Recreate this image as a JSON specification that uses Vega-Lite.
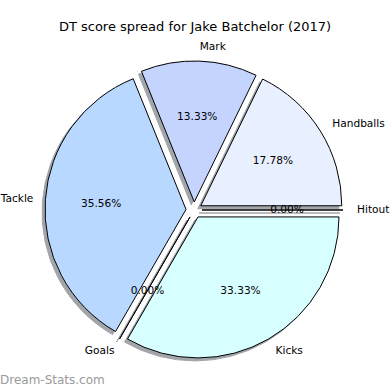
{
  "$schema": "https://vega.github.io/schema/vega-lite/v6.json",
  "autosize": "none",
  "padding": {"left": 0, "right": 0, "top": 40, "bottom": 0},
  "width": 390,
  "height": 350,
  "background": "white",
  "config": {"view": {"stroke": null}},
  "title": {"text": "DT score spread for Jake Batchelor (2017)", "font": "DejaVu Sans", "fontSize": 13, "fontWeight": "normal", "color": "#000000", "anchor": "middle", "frame": "group", "offset": -4, "baseline": "alphabetic"},
  "data": {"values": [
    {"label": "Handballs", "count": 8, "order": 1},
    {"label": "Mark", "count": 6, "order": 2},
    {"label": "Tackle", "count": 16, "order": 3},
    {"label": "Goals", "count": 0, "order": 4},
    {"label": "Kicks", "count": 15, "order": 5},
    {"label": "Hitout", "count": 0, "order": 6}
  ]},
  "transform": [
    {"joinaggregate": [{"op": "sum", "field": "count", "as": "total"}]},
    {"window": [{"op": "sum", "field": "count", "as": "cum"}], "sort": [{"field": "order"}], "frame": [null, 0]},
    {"calculate": "datum.cum - datum.count", "as": "start"},
    {"calculate": "datum.cum - datum.count / 2", "as": "mid"},
    {"calculate": "cos(2 * PI * datum.mid / datum.total)", "as": "ex"},
    {"calculate": "sin(2 * PI * datum.mid / datum.total)", "as": "ey"},
    {"calculate": "datum.count / datum.total", "as": "pct"}
  ],
  "encoding": {
    "x": {"field": "ex", "type": "quantitative", "axis": null, "scale": {"domain": [-24.25, 24.5], "nice": false, "zero": false}},
    "y": {"field": "ey", "type": "quantitative", "axis": null, "scale": {"domain": [-22.5, 21.25], "nice": false, "zero": false}}
  },
  "layer": [
    {
      "mark": {"type": "arc", "outerRadius": 141, "fill": "#a2a6aa", "stroke": "#a2a6aa", "strokeWidth": 1, "xOffset": -3, "yOffset": 3},
      "encoding": {
        "theta": {"field": "start", "type": "quantitative", "scale": {"domain": [0, 45], "range": [1.5707963, -4.712389]}},
        "theta2": {"field": "cum"}
      }
    },
    {
      "mark": {"type": "arc", "outerRadius": 141, "stroke": "#000000", "strokeWidth": 1},
      "encoding": {
        "theta": {"field": "start", "type": "quantitative"},
        "theta2": {"field": "cum"},
        "color": {"field": "label", "type": "nominal", "legend": null, "scale": {"domain": ["Handballs", "Mark", "Tackle", "Goals", "Kicks", "Hitout"], "range": ["#e8f0ff", "#c4d4ff", "#b8d8ff", "#c8e8ff", "#d8ffff", "#f0f0ff"]}}
      }
    },
    {
      "mark": {"type": "text", "radius": 85, "font": "DejaVu Sans", "fontSize": 10.6, "color": "#000000", "align": "center", "baseline": "middle"},
      "encoding": {
        "theta": {"field": "mid", "type": "quantitative"},
        "text": {"field": "pct", "type": "quantitative", "format": ".2%"}
      }
    },
    {
      "transform": [{"filter": "datum.ex > 0"}],
      "mark": {"type": "text", "radius": 155, "font": "DejaVu Sans", "fontSize": 10.6, "color": "#000000", "align": "left", "baseline": "middle"},
      "encoding": {
        "theta": {"field": "mid", "type": "quantitative"},
        "text": {"field": "label", "type": "nominal"}
      }
    },
    {
      "transform": [{"filter": "datum.ex <= 0"}],
      "mark": {"type": "text", "radius": 155, "dx": 2, "font": "DejaVu Sans", "fontSize": 10.6, "color": "#000000", "align": "right", "baseline": "middle"},
      "encoding": {
        "theta": {"field": "mid", "type": "quantitative"},
        "text": {"field": "label", "type": "nominal"}
      }
    },
    {
      "transform": [{"filter": "datum.order == 1"}],
      "mark": {"type": "text", "font": "DejaVu Sans", "fontSize": 12, "color": "#9a9a9a", "align": "left", "baseline": "alphabetic"},
      "encoding": {
        "x": {"datum": -24.25},
        "y": {"datum": -21.75},
        "text": {"value": "Dream-Stats.com"}
      }
    }
  ]
}
